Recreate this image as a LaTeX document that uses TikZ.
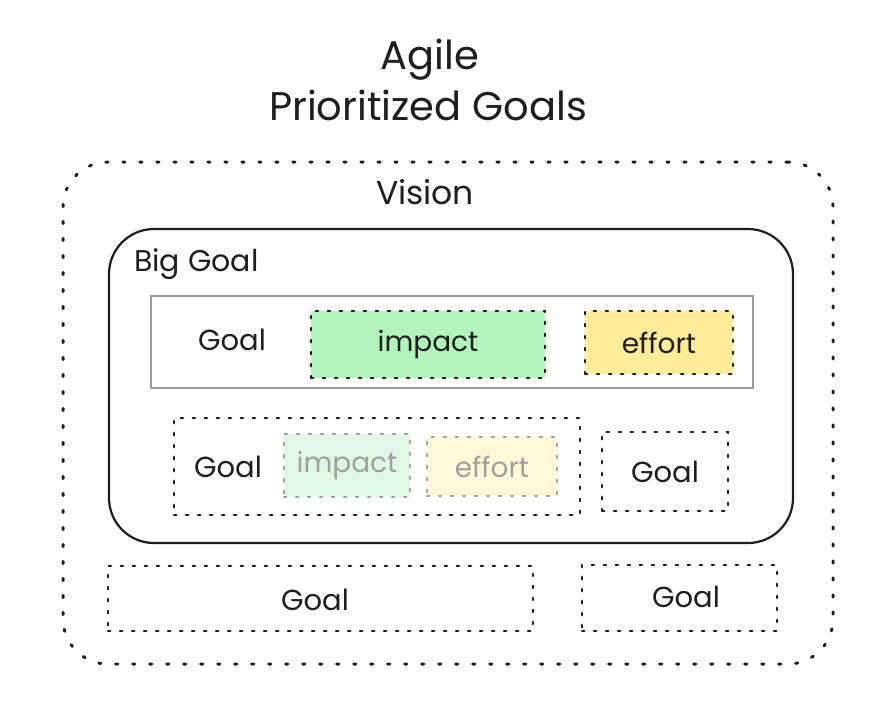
\documentclass[tikz,border=0pt]{standalone}
\usepackage{fontspec}
\setmainfont{Poppins}
\definecolor{ink}{HTML}{1E1E1E}
\definecolor{boxgray}{HTML}{9A9A9A}
\definecolor{fadeink}{HTML}{A0A0A0}
\definecolor{green1}{HTML}{B2F2BB}
\definecolor{yellow1}{HTML}{FFEC99}
\definecolor{green2}{HTML}{E0F8E3}
\definecolor{yellow2}{HTML}{FFF7D6}
\begin{document}
\begin{tikzpicture}[x=1pt,y=-1pt,
  txt/.style={text=ink,font=\fontsize{29}{34}\selectfont,inner sep=0pt},
  dotbox/.style={draw=ink,line width=2.6pt,line cap=round,dash pattern=on 2.2pt off 9.8pt,inner sep=0pt,text=ink,font=\fontsize{28}{33}\selectfont},
  fadebox/.style={draw=fadeink,line width=2.6pt,line cap=round,dash pattern=on 2.2pt off 9.8pt,inner sep=0pt,text=fadeink,font=\fontsize{28}{33}\selectfont},
  visionbox/.style={draw=ink,line width=3pt,line cap=round,dash pattern=on 2.2pt off 14.8pt,rounded corners=45pt},
  biggoalbox/.style={draw=ink,line width=2.2pt,rounded corners=45pt},
  graybox/.style={draw=boxgray,line width=2pt}
]
\useasboundingbox (0,0) rectangle (890,710);
% title
\node[txt,font=\fontsize{40}{46}\selectfont] (agile) at (430,60) {Agile};
\node[txt,font=\fontsize{40}{46}\selectfont] (title) at (428,105) {Prioritized Goals};
% vision
\node[visionbox,minimum width=770pt,minimum height=502pt] (vision) at (448,413) {};
\node[txt,font=\fontsize{33}{38}\selectfont] (visiontxt) at (425,192) {Vision};
% big goal
\node[biggoalbox,minimum width=684pt,minimum height=314pt] (biggoal) at (451,386) {};
\node[txt,anchor=west,font=\fontsize{30}{35}\selectfont] (biggoaltxt) at (134,264) {Big Goal};
% row 1
\node[graybox,minimum width=602pt,minimum height=92pt] (row1) at (452,342) {};
\node[txt] (goal1) at (232,340) {Goal};
\node[dotbox,fill=green1,minimum width=234pt,minimum height=67pt] (impact1) at (428,344.5) {impact};
\node[dotbox,fill=yellow1,minimum width=148pt,minimum height=63pt] (effort1) at (659,342.5) {effort};
% row 2
\node[dotbox,minimum width=406pt,minimum height=97pt] (row2) at (377,466.5) {};
\node[txt] (goal2) at (228,467) {Goal};
\node[fadebox,fill=green2,minimum width=126pt,minimum height=63pt] (impact2) at (347,465.5) {impact};
\node[fadebox,fill=yellow2,minimum width=130pt,minimum height=59pt] (effort2) at (492,466.5) {effort};
\node[dotbox,font=\fontsize{29}{34}\selectfont,minimum width=126pt,minimum height=79pt] (goal3) at (665,471.5) {Goal};
% bottom
\node[dotbox,minimum width=425pt,minimum height=65pt] (goal4box) at (320.5,598.5) {};
\node[txt] (goal4) at (315,600) {Goal};
\node[dotbox,minimum width=195pt,minimum height=66pt] (goal5box) at (679.5,598) {};
\node[txt] (goal5) at (686,597) {Goal};
\end{tikzpicture}
\end{document}
